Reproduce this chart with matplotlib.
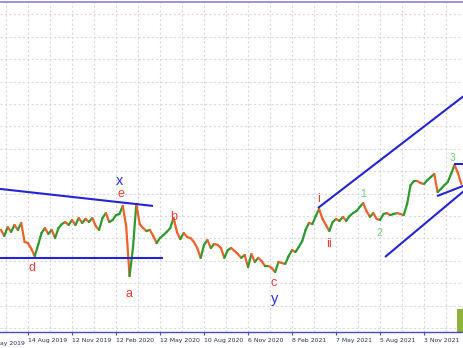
import numpy as np
import matplotlib
matplotlib.use("Agg")
import matplotlib.pyplot as plt
from matplotlib.collections import LineCollection

# ---------------- data ----------------
# weekly closing prices (arbitrary price units), week index 0..136
closes = [
    104.38, 104.11, 104.51, 104.29, 104.60, 104.38, 104.69, 103.84, 103.79, 103.53,
    103.21, 103.71, 104.24, 104.46, 104.20, 104.38, 104.02, 104.46, 104.64, 104.73,
    104.60, 104.82, 104.60, 104.91, 104.69, 104.87, 104.73, 104.91, 104.55, 104.38,
    104.91, 105.13, 104.73, 104.82, 105.04, 105.09, 105.45, 104.55, 102.32, 103.57,
    105.54, 104.64, 104.46, 104.33, 104.38, 104.11, 103.79, 104.02, 104.15, 104.29,
    104.46, 104.91, 104.29, 103.97, 104.24, 104.06, 104.02, 103.84, 103.57, 103.13,
    103.71, 103.93, 103.57, 103.75, 103.71, 103.57, 103.13, 103.48, 103.57, 103.44,
    103.30, 103.13, 103.26, 102.72, 103.30, 102.95, 103.13, 102.99, 102.77, 102.77,
    102.68, 102.50, 102.95, 102.90, 102.86, 103.21, 103.48, 103.39, 103.62, 103.88,
    104.38, 104.69, 104.64, 105.00, 105.31, 104.87, 104.60, 104.33, 104.73, 104.87,
    104.78, 104.96, 104.78, 105.00, 105.13, 105.22, 105.40, 105.58, 105.22, 104.96,
    105.13, 104.87, 104.82, 105.09, 105.13, 105.04, 105.09, 105.13, 105.09, 105.04,
    105.54, 106.38, 106.56, 106.56, 106.47, 106.43, 106.61, 106.74, 106.88, 106.07,
    106.21, 106.38, 106.52, 106.88, 107.28, 106.92, 106.43,
]

tick_weeks = [-5, 8, 21, 34, 47, 60, 73, 86, 99, 112, 125]
tick_labels = ["15 May 2019", "14 Aug 2019", "12 Nov 2019", "12 Feb 2020",
               "12 May 2020", "10 Aug 2020", "6 Nov 2020", "8 Feb 2021",
               "7 May 2021", "5 Aug 2021", "3 Nov 2021"]

# trend lines: (week0, price0, week1, price1)
trend_lines = [
    (-0.27, 106.21, 44.93, 105.45),   # upper line of the x-wave triangle
    (-0.27, 103.13, 47.88, 103.13),   # lower horizontal line
    (93.67, 105.36, 137.5, 110.45),   # upper channel
    (113.47, 103.17, 137.5, 106.21),  # lower channel
    (133.85, 107.32, 137.0, 107.32),  # horizontal at wave 3
    (128.83, 105.89, 137.0, 106.37),  # small rising line
]

# wave labels: (text, week, price, kind)
wave_labels = [
    ("x", 35.18, 106.56, "blue"), ("e", 35.47, 105.98, "red"),
    ("d", 9.18, 102.68, "red"), ("a", 37.84, 101.52, "red"),
    ("b", 51.13, 104.96, "red"), ("c", 80.67, 102.01, "red"),
    ("y", 80.97, 101.29, "blue"), ("i", 93.97, 105.76, "red"),
    ("ii", 96.92, 103.75, "red"), ("1", 106.97, 105.98, "green"),
    ("2", 111.69, 104.24, "green"), ("3", 133.55, 107.59, "green"),
]

# indicator bar at the far right
ind_week, ind_width, ind_top = 135.6, 1.9, 100.85

# ---------------- plot ----------------
W, H = 463, 348
fig = plt.figure(figsize=(W / 100, H / 100), dpi=100)
ax = fig.add_axes([0, 16 / H, 1, (332 - 1.5) / H])
ymin, ymax = 99.82, 114.58
ax.set_xlim(-0.27, 136.5)
ax.set_ylim(ymin, ymax)

UP, DOWN = "#2e9a2e", "#f2602a"
c = np.array(closes)
w = np.arange(len(c))
segs = [[(w[i - 1], c[i - 1]), (w[i], c[i])] for i in range(1, len(c))]
cols = [UP if c[i] >= c[i - 1] else DOWN for i in range(1, len(c))]
ax.add_collection(LineCollection(segs, colors=cols, linewidths=1.6,
                                 capstyle="round", zorder=3))

for (x0, y0, x1, y1) in trend_lines:
    ax.plot([x0, x1], [y0, y1], color="#2323d8", lw=1.5, zorder=4,
            solid_capstyle="butt")

colors = {"red": "#f23a32", "blue": "#2a2ae6", "green": "#6ccf6c"}
sizes = {"red": 9, "blue": 10.5, "green": 7.5}
for t, x, y, k in wave_labels:
    ax.text(x, y, t, color=colors[k], fontsize=sizes[k], ha="center",
            va="center", family="Liberation Sans", zorder=5)

ax.bar(ind_week, ind_top - ymin, bottom=ymin, width=ind_width,
       color="#8db33a", zorder=2)

# grid and axes styling
ax.set_yticks(np.arange(100, 115))
ax.set_xticks(tick_weeks[1:])
ax.set_xticklabels(tick_labels[1:])
ax.set_xticks([1.5 + 13 * k for k in range(11)], minor=True)
ax.grid(True, which="both", color="#dadada", lw=0.8, ls=(0, (2, 2)), zorder=0)
ax.tick_params(axis="y", left=False, labelleft=False)
ax.tick_params(axis="x", which="major", length=2.5, width=0.8, color="#4a4ac8",
               labelsize=4.4, labelcolor="#2a2a60", pad=1.5)
ax.tick_params(axis="x", which="minor", length=0)
for lab in ax.get_xticklabels():
    lab.set_ha("left")
    lab.set_family("DejaVu Sans")
ax.text(tick_weeks[0] + 0.3, -0.026, tick_labels[0], transform=ax.get_xaxis_transform(),
        fontsize=4.4, color="#2a2a60", ha="left", va="top", clip_on=False)
for s in ("left", "right"):
    ax.spines[s].set_visible(False)
ax.spines["bottom"].set_color("#4a4ac8")
ax.spines["bottom"].set_linewidth(1.0)
ax.spines["top"].set_color("#8c8ce0")
ax.spines["top"].set_linewidth(1.3)

fig.savefig("out.png", dpi=100)
